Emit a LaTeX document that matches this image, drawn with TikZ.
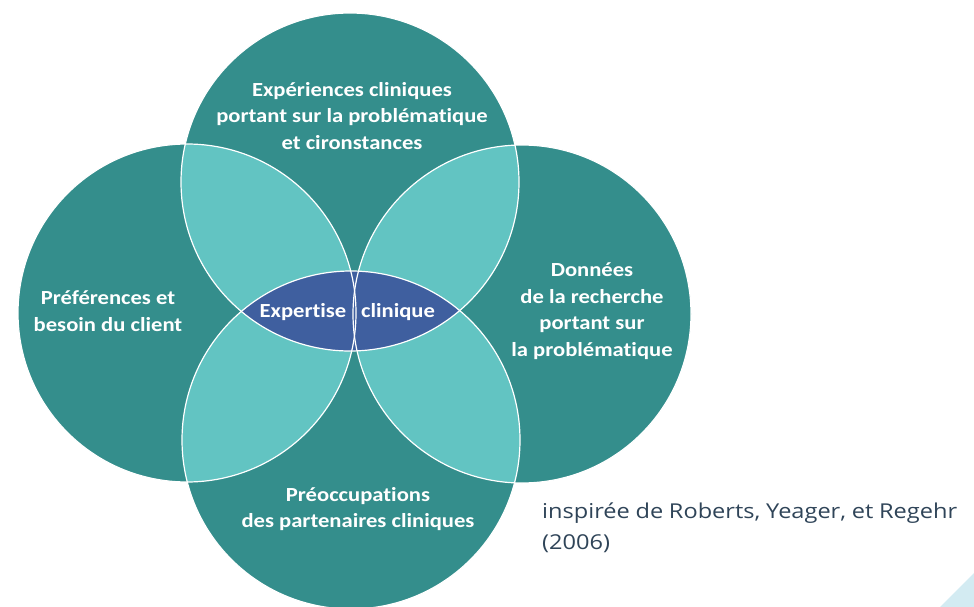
\documentclass[tikz,border=0pt]{standalone}
\usepackage{fontspec}
\setmainfont{Carlito}[FakeStretch=1.13, Ligatures=NoCommon]
\newfontfamily\citefont{Open Sans}[FakeStretch=1.15]
\usetikzlibrary{positioning}

\definecolor{petrole}{HTML}{348E8C}
\definecolor{lagon}{HTML}{62C4C2}
\definecolor{indigo}{HTML}{3F5F9F}
\definecolor{ardoise}{HTML}{2F4458}
\definecolor{ciel}{HTML}{D3EBF2}

\tikzset{
  cercle/.style={fill=petrole},
  lentille/.style={fill=lagon},
  coeur/.style={fill=indigo},
  bord/.style={draw=white, line width=1.2pt},
  etiquette/.style={text=white, align=center, inner sep=0pt,
    font=\bfseries\fontsize{20}{26.5}\selectfont},
  source/.style={text=ardoise, inner sep=0pt, text width=415pt, align=justify,
    font=\citefont\fontsize{20.5}{31}\selectfont}
}

\def\rayon{169pt}

\begin{document}
\begin{tikzpicture}[x=1pt, y=-1pt]
\useasboundingbox (0,0) rectangle (974,607);

% coin decoratif
\fill[ciel] (940,607) -- (974,573) -- (974,607) -- cycle;

\coordinate (haut) at (350,182);
\coordinate (bas) at (351,440);
\coordinate (gauche) at (187,313);
\coordinate (droite) at (522,314);

% les quatre cercles
\foreach \c in {haut,gauche,droite,bas}
  \fill[cercle] (\c) circle (\rayon);

% intersections voisines
\foreach \a/\b in {haut/gauche,haut/droite,bas/gauche,bas/droite}{
  \begin{scope}
    \clip (\a) circle (\rayon);
    \fill[lentille] (\b) circle (\rayon);
  \end{scope}
}

% centre : haut et bas
\begin{scope}
  \clip (haut) circle (\rayon);
  \fill[coeur] (bas) circle (\rayon);
\end{scope}

\foreach \c in {haut,gauche,droite,bas}
  \draw[bord] (\c) circle (\rayon);

\node[etiquette] (experiences) at (352,116)
  {Expériences cliniques\\portant sur la problématique\\et cironstances};
\node[etiquette] (preferences) at (108,311) {Préférences et\\besoin du client};
\node[etiquette] (donnees) at (592,311)
  {Données\\de la recherche\\portant sur\\la problématique};
\node[etiquette] (preoccupations) at (358,509)
  {Préoccupations\\des partenaires cliniques};
\node[etiquette] (expertise) at (303,312) {Expertise};
\node[etiquette] (clinique) at (398,312) {clinique};

\node[source, anchor=base west] (inspiree) at (542,518)
  {inspirée de Roberts, Yeager, et Regehr\linebreak (2006)};
\end{tikzpicture}
\end{document}
